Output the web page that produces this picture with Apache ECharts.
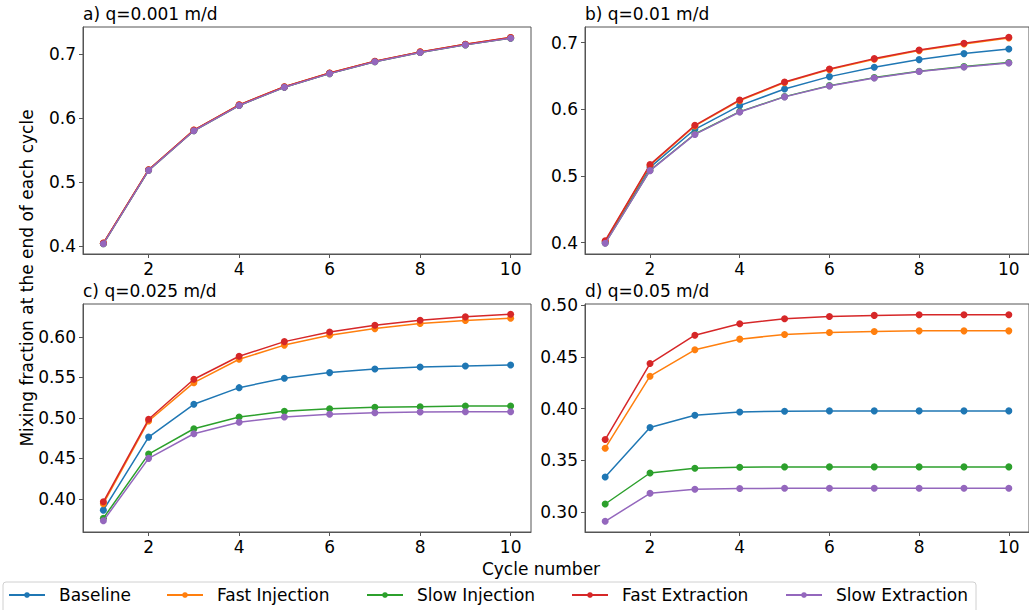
<!DOCTYPE html>
<html>
<head>
<meta charset="utf-8">
<script src="https://cdn.jsdelivr.net/npm/echarts@6/dist/echarts.min.js"></script>
<style>
html,body{margin:0;padding:0;background:#fff;}
#chart{width:1029px;height:610px;}
</style>
</head>
<body>
<div id="chart"></div>
<script>
// ---- data ----
const cycles = [1, 2, 3, 4, 5, 6, 7, 8, 9, 10];
const seriesNames = ['Baseline', 'Fast Injection', 'Slow Injection', 'Fast Extraction', 'Slow Extraction'];
const panelTitles = ['a) q=0.001 m/d', 'b) q=0.01 m/d', 'c) q=0.025 m/d', 'd) q=0.05 m/d'];
const xTicks = [2, 4, 6, 8, 10];
const yTicksA = [0.4, 0.5, 0.6, 0.7];
const yTicksB = [0.4, 0.5, 0.6, 0.7];
const yTicksC = [0.40, 0.45, 0.50, 0.55, 0.60];
const yTicksD = [0.30, 0.35, 0.40, 0.45, 0.50];

// panel a) q=0.001 m/d
const aBaseline = [0.404, 0.519, 0.581, 0.6205, 0.649, 0.6705, 0.689, 0.7035, 0.7155, 0.726];
const aFastInj  = [0.4045, 0.5195, 0.5815, 0.621, 0.6495, 0.671, 0.6895, 0.704, 0.716, 0.7265];
const aSlowInj  = [0.4035, 0.5185, 0.5805, 0.620, 0.6485, 0.670, 0.6885, 0.703, 0.715, 0.7255];
const aFastExt  = [0.4045, 0.5195, 0.5815, 0.621, 0.6495, 0.671, 0.6895, 0.704, 0.716, 0.7265];
const aSlowExt  = [0.4035, 0.5185, 0.5805, 0.620, 0.6485, 0.670, 0.6885, 0.703, 0.715, 0.7255];

// panel b) q=0.01 m/d
const bBaseline = [0.401, 0.513, 0.570, 0.6055, 0.6305, 0.649, 0.663, 0.6745, 0.6835, 0.6905];
const bFastInj  = [0.402, 0.516, 0.575, 0.613, 0.640, 0.6595, 0.675, 0.688, 0.698, 0.707];
const bSlowInj  = [0.3995, 0.5085, 0.563, 0.5965, 0.619, 0.6355, 0.6475, 0.657, 0.664, 0.670];
const bFastExt  = [0.403, 0.517, 0.576, 0.614, 0.641, 0.6605, 0.676, 0.689, 0.699, 0.708];
const bSlowExt  = [0.399, 0.508, 0.5623, 0.596, 0.6186, 0.635, 0.647, 0.6566, 0.6635, 0.6695];

// panel c) q=0.025 m/d
const cBaseline = [0.386, 0.4763, 0.5168, 0.5374, 0.549, 0.556, 0.5605, 0.563, 0.5642, 0.5655];
const cFastInj  = [0.394, 0.4962, 0.5436, 0.5725, 0.590, 0.6022, 0.6104, 0.6166, 0.6203, 0.6233];
const cSlowInj  = [0.3761, 0.4553, 0.4866, 0.5011, 0.5082, 0.5114, 0.5131, 0.5139, 0.5147, 0.5147];
const cFastExt  = [0.3963, 0.4983, 0.5478, 0.5762, 0.5943, 0.6063, 0.6146, 0.6208, 0.6249, 0.6282];
const cSlowExt  = [0.3728, 0.450, 0.4804, 0.4946, 0.5011, 0.5045, 0.5064, 0.5073, 0.5077, 0.5077];

// panel d) q=0.05 m/d
const dBaseline = [0.3341, 0.3817, 0.3936, 0.3968, 0.3975, 0.3978, 0.3978, 0.3978, 0.3978, 0.3978];
const dFastInj  = [0.3618, 0.4313, 0.4567, 0.467, 0.4715, 0.4734, 0.4744, 0.475, 0.475, 0.475];
const dSlowInj  = [0.308, 0.3379, 0.3425, 0.3434, 0.3438, 0.3438, 0.3438, 0.3438, 0.3438, 0.3438];
const dFastExt  = [0.3702, 0.4435, 0.4708, 0.4818, 0.4866, 0.4889, 0.4899, 0.4905, 0.4905, 0.4905];
const dSlowExt  = [0.2913, 0.3183, 0.3222, 0.3229, 0.3232, 0.3232, 0.3232, 0.3232, 0.3232, 0.3232];

// ---- styling / layout ----
const colors = ['#1f77b4', '#ff7f0e', '#2ca02c', '#d62728', '#9467bd'];
const FONT = 'DejaVu Sans';
const AXC = '#555';
const panels = [
  {data: [aBaseline, aFastInj, aSlowInj, aFastExt, aSlowExt], ticks: yTicksA, dec: 1, ymin: 0.3875, ymax: 0.743,
   grid: {left: 83, top: 27, width: 448, height: 227}},
  {data: [bBaseline, bFastInj, bSlowInj, bFastExt, bSlowExt], ticks: yTicksB, dec: 1, ymin: 0.383, ymax: 0.7234,
   grid: {left: 585, top: 27, width: 447, height: 227}},
  {data: [cBaseline, cFastInj, cSlowInj, cFastExt, cSlowExt], ticks: yTicksC, dec: 2, ymin: 0.359, ymax: 0.6408,
   grid: {left: 83, top: 304, width: 448, height: 228}},
  {data: [dBaseline, dFastInj, dSlowInj, dFastExt, dSlowExt], ticks: yTicksD, dec: 2, ymin: 0.281, ymax: 0.5009,
   grid: {left: 585, top: 304, width: 447, height: 228}}
];

const grids = [], xAxes = [], yAxes = [], series = [], graphics = [];
panels.forEach((p, i) => {
  grids.push(Object.assign({show: true, borderColor: AXC, borderWidth: 1, backgroundColor: 'transparent', containLabel: false}, p.grid));
  xAxes.push({
    type: 'value', gridIndex: i, min: 0.55, max: 10.45,
    axisLine: {show: true, onZero: false, lineStyle: {color: AXC, width: 1}},
    axisTick: {show: true, inside: false, length: 4, lineStyle: {color: AXC}, customValues: xTicks},
    axisLabel: {show: true, color: '#000', fontFamily: FONT, fontSize: 17, margin: 6, customValues: xTicks,
      formatter: v => String(Math.round(v))},
    splitLine: {show: false}
  });
  yAxes.push({
    type: 'value', gridIndex: i, min: p.ymin, max: p.ymax,
    axisLine: {show: true, onZero: false, lineStyle: {color: AXC, width: 1}},
    axisTick: {show: true, inside: false, length: 4, lineStyle: {color: AXC}, customValues: p.ticks},
    axisLabel: {show: true, color: '#000', fontFamily: FONT, fontSize: 17, margin: 7, customValues: p.ticks,
      formatter: v => Number(v).toFixed(p.dec)},
    splitLine: {show: false}
  });
  p.data.forEach((vals, k) => {
    series.push({
      name: seriesNames[k], type: 'line', xAxisIndex: i, yAxisIndex: i,
      data: cycles.map((c, j) => [c, vals[j]]),
      symbol: 'circle', symbolSize: 7, showSymbol: true,
      lineStyle: {color: colors[k], width: 1.5},
      itemStyle: {color: colors[k], borderWidth: 0},
      emphasis: {disabled: true}, z: 2 + k
    });
  });
  graphics.push({
    type: 'text', left: p.grid.left, top: p.grid.top - 22,
    style: {text: panelTitles[i], font: '17px "' + FONT + '"', fill: '#000'}
  });
});

// y-axis label (shared)
graphics.push({
  type: 'text', x: 27, y: 278, rotation: Math.PI / 2,
  style: {text: 'Mixing fraction at the end of each cycle', font: '17px "' + FONT + '"', fill: '#000',
    textAlign: 'center', textVerticalAlign: 'middle'}
});
// x-axis label (shared)
graphics.push({
  type: 'text', x: 541, y: 569,
  style: {text: 'Cycle number', font: '17px "' + FONT + '"', fill: '#000', textAlign: 'center', textVerticalAlign: 'middle'}
});
// legend frame
graphics.push({
  type: 'rect', shape: {x: 3, y: 582, width: 973, height: 40, r: 3}, z: -1,
  style: {fill: '#fff', stroke: '#d0d0d0', lineWidth: 1}
});

const legendLefts = [8, 166, 366, 571, 785];
const legends = seriesNames.map((n, k) => ({
  data: [n], left: legendLefts[k], top: 585, padding: 0,
  itemWidth: 36, itemHeight: 7, selectedMode: false,
  textStyle: {fontFamily: FONT, fontSize: 17, color: '#000', padding: [0, 0, 0, 9], lineHeight: 20}
}));

const chart = echarts.init(document.getElementById('chart'), null, {renderer: 'svg', width: 1029, height: 610});
chart.setOption({
  animation: false,
  backgroundColor: '#fff',
  color: colors,
  grid: grids, xAxis: xAxes, yAxis: yAxes, series: series,
  legend: legends,
  graphic: graphics
});
</script>
</body>
</html>
